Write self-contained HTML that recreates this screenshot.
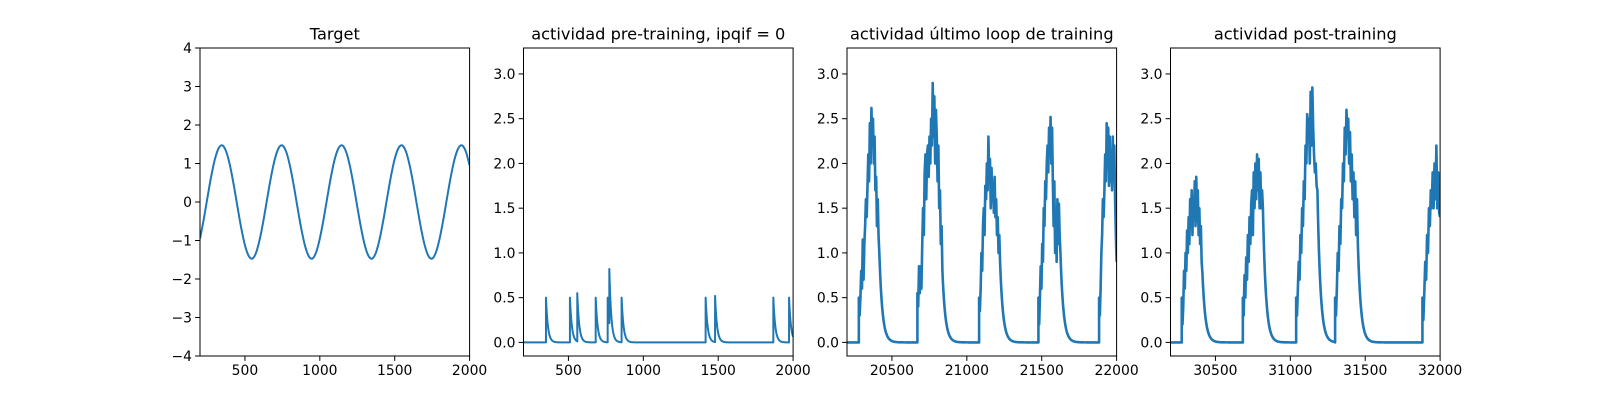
<!DOCTYPE html>
<html><head><meta charset="utf-8"><style>
body{margin:0;background:#fff}
svg{display:block;font-family:"DejaVu Sans","Liberation Sans",sans-serif}
</style></head><body>
<svg id="fig" width="1600" height="400" viewBox="0 0 1600 400"></svg>
<script>
// ---- Data ----
const targetX0 = 200, targetStep = 25;
const targetValues = [
-0.95,-0.45,0.12,0.67,1.12,1.40,1.47,1.31,0.95,0.45,-0.12,-0.67,-1.12,-1.40,-1.47,-1.31,
-0.95,-0.45,0.12,0.67,1.12,1.40,1.47,1.31,0.95,0.45,-0.12,-0.67,-1.12,-1.40,-1.47,-1.31,
-0.95,-0.45,0.12,0.67,1.12,1.40,1.47,1.31,0.95,0.45,-0.12,-0.67,-1.12,-1.40,-1.47,-1.31,
-0.95,-0.45,0.12,0.67,1.12,1.40,1.47,1.31,0.95,0.45,-0.12,-0.67,-1.12,-1.40,-1.47,-1.31,
-0.95,-0.45,0.12,0.67,1.12,1.40,1.47,1.31,0.95];
const spikeTimes = [350,510,559,682,762,773,855,1416,1479,1868,1973];
const spikeHeights = [0.5,0.5,0.55,0.5,0.5,0.82,0.5,0.5,0.52,0.5,0.5];

const p3Onsets = [20279,20670,21082,21478,21883];
const p3Ends = [20421,20837,21222,21625,22000];
const p3Burst1 = [0.5,0.3,0.5,0.8,0.6,1.15,0.7,1.1,1.3,1.6,1.4,1.75,2.1,1.8,2.45,2.0,2.62,2.2,2.5,2.0,2.3,1.7,1.85,1.3,1.6,1.2,1.0,0.78];
const p3Burst2 = [0.55,0.4,0.85,0.55,0.85,0.6,1.1,1.5,1.2,1.9,2.1,1.6,2.1,2.2,1.85,2.3,2.0,2.5,2.2,2.9,2.3,2.75,2.0,2.6,2.3,1.8,2.2,1.5,1.7,1.1,1.3,0.8];
const p3Burst3 = [0.5,0.35,0.6,1.0,0.8,1.3,1.5,1.2,1.75,1.6,2.0,1.7,2.3,1.85,2.05,1.5,1.95,1.6,1.75,1.45,1.85,1.4,1.6,1.2,1.4,1.0,1.2,0.9];
const p3Burst4 = [0.5,0.2,0.5,0.85,0.6,1.1,0.9,1.5,1.3,1.8,1.6,2.0,2.2,1.9,2.4,2.1,2.52,2.0,2.4,1.8,1.3,1.8,1.0,1.5,0.9,1.6,1.1,1.55,1.2,1.0];
const p3Burst5 = [0.5,0.3,0.6,1.0,1.2,1.6,1.4,1.7,2.1,1.8,2.45,2.0,2.4,1.75,2.3,1.8,2.1,1.7,2.3,1.8,2.2,1.6,1.2,0.9];

const p4Onsets = [30275,30683,31039,31299,31882];
const p4Ends = [30413,30817,31181,31451,32000];
const p4Burst1 = [0.5,0.2,0.4,0.8,0.6,1.0,0.8,1.25,1.0,1.4,1.1,1.6,1.3,1.7,1.2,1.6,1.4,1.8,1.3,1.85,1.35,1.7,1.2,1.5,1.1,1.3,0.9,0.78];
const p4Burst2 = [0.5,0.3,0.75,0.5,0.95,0.7,1.2,0.9,1.4,1.1,1.55,1.7,1.2,1.9,1.5,2.0,1.6,2.1,1.7,2.05,1.5,1.9,1.5,1.7,1.5];
const p4Burst3 = [0.5,0.3,0.6,0.9,0.7,1.2,1.0,1.5,1.3,1.8,1.6,2.2,2.0,2.55,2.3,2.5,2.0,2.8,2.2,2.85,2.4,2.1,1.9,2.0,1.75,1.7];
const p4Burst4 = [0.5,0.3,0.6,1.0,0.8,1.3,1.1,1.6,1.5,2.0,1.8,2.4,2.1,2.6,2.3,2.5,2.0,2.35,1.8,2.1,1.6,1.9,1.4,1.8,1.2,1.6,1.1];
const p4Burst5 = [0.5,0.25,0.55,0.9,0.7,1.2,1.0,1.5,1.3,1.7,1.5,1.9,1.5,2.0,1.6,2.2,1.5,1.9,1.45,1.4];

const titles = ["Target","actividad pre-training, ipqif = 0","actividad último loop de training","actividad post-training"];
const xTicks1 = [500,1000,1500,2000];
const xTicks3 = [20500,21000,21500,22000];
const xTicks4 = [30500,31000,31500,32000];
const yTicks1 = [-4,-3,-2,-1,0,1,2,3,4];
const yTicks2 = [0,0.5,1,1.5,2,2.5,3];

// ---- Drawing ----
const NS="http://www.w3.org/2000/svg";
const svg=document.getElementById('fig');
function mk(tag,attrs,parent){const e=document.createElementNS(NS,tag);for(const k in attrs)e.setAttribute(k,attrs[k]);(parent||svg).appendChild(e);return e;}
const TOP=48,BOT=356,W=269.6,GAP=53.9;
const lefts=[200,200+W+GAP,200+2*(W+GAP),200+3*(W+GAP)];

function axes(i,xmin,xmax,ymin,ymax,xt,yt,ylab,pts,name,smooth,sw){
  const L=lefts[i],R=L+W;
  const sx=v=>L+(v-xmin)/(xmax-xmin)*W;
  const sy=v=>BOT-(v-ymin)/(ymax-ymin)*(BOT-TOP);
  const g=mk('g',{});
  
  
  const cp=mk('clipPath',{id:'c'+i},g);
  mk('rect',{x:L,y:TOP,width:W,height:BOT-TOP},cp);
  const P=pts.map(p=>[sx(p[0]),sy(p[1])]);
  let d;
  if(smooth){
    d='M'+P[0][0].toFixed(2)+' '+P[0][1].toFixed(2);
    for(let k=0;k<P.length-1;k++){
      const p0=P[Math.max(0,k-1)],p1=P[k],p2=P[k+1],p3=P[Math.min(P.length-1,k+2)];
      const c1=[p1[0]+(p2[0]-p0[0])/6,p1[1]+(p2[1]-p0[1])/6];
      const c2=[p2[0]-(p3[0]-p1[0])/6,p2[1]-(p3[1]-p1[1])/6];
      d+='C'+c1[0].toFixed(2)+' '+c1[1].toFixed(2)+' '+c2[0].toFixed(2)+' '+c2[1].toFixed(2)+' '+p2[0].toFixed(2)+' '+p2[1].toFixed(2);
    }
  } else d=P.map((p,k)=>(k?'L':'M')+p[0].toFixed(2)+' '+p[1].toFixed(2)).join('');
  const line=mk('path',{d:d,fill:'none',stroke:'#1f77b4','stroke-width':sw,'stroke-linejoin':'round','clip-path':'url(#c'+i+')'},g);
  
  
  const fr=mk('rect',{x:L,y:TOP,width:W,height:BOT-TOP,fill:'none',stroke:'#000','stroke-width':1},g);
  
  
  xt.forEach(v=>{const x=sx(v);mk('line',{x1:x,x2:x,y1:BOT,y2:BOT+4.9,stroke:'#000','stroke-width':1},g);
    const t=mk('text',{x:x,y:BOT+19,'text-anchor':'middle','font-size':13.9,fill:'#000'},g);t.textContent=String(v);
    
    });
  yt.forEach(v=>{const y=sy(v);mk('line',{x1:L,x2:L-4.9,y1:y,y2:y,stroke:'#000','stroke-width':1},g);
    const t=mk('text',{x:L-8,y:y+5,'text-anchor':'end','font-size':13.9,fill:'#000'},g);t.textContent=ylab(v);
    
    });
  const tt=mk('text',{x:L+W/2,y:39.5,'text-anchor':'middle','font-size':16.2,fill:'#000'},g);tt.textContent=titles[i];
  
  
}

// Panel 1
const p1=targetValues.map((v,k)=>[targetX0+k*targetStep,v]);
// Panel 2
function spikeVal(t){let m=0;spikeTimes.forEach((s,k)=>{if(t>=s){const v=spikeHeights[k]*Math.exp(-(t-s)/13);if(v>m)m=v;}});return m;}
let ts=[];for(let t=200;t<=2000;t+=2)ts.push(t);
spikeTimes.forEach(s=>{ts.push(s-0.01);ts.push(s);});
ts.sort((a,b)=>a-b);
const p2=ts.map(t=>[t,spikeVal(t)]);
// Bursts
function burstPts(xmin,xmax,onsets,ends,bursts){
  const pts=[[xmin,0]];
  onsets.forEach((on,k)=>{
    pts.push([on,0]);
    const b=bursts[k],n=b.length,e=ends[k];
    b.forEach((v,j)=>pts.push([on+j*(e-on)/(n-1),v]));
    const next=k+1<onsets.length?onsets[k+1]:xmax;
    const last=b[n-1];
    for(let t=e+2;t<next;t+=2)pts.push([t,last*Math.exp(-(t-e)/20)]);
  });
  return pts;
}
const p3=burstPts(20200,22000,p3Onsets,p3Ends,[p3Burst1,p3Burst2,p3Burst3,p3Burst4,p3Burst5]);
const p4=burstPts(30200,32000,p4Onsets,p4Ends,[p4Burst1,p4Burst2,p4Burst3,p4Burst4,p4Burst5]);

const intLab=v=>v<0?'\u2212'+Math.abs(v):String(v);
const decLab=v=>v.toFixed(1);
axes(0,200,2000,-4,4,xTicks1,yTicks1,intLab,p1,'target-plot',true,2);
axes(1,200,2000,-0.152,3.29,xTicks1,yTicks2,decLab,p2,'pre-training-plot',false,2);
axes(2,20200,22000,-0.152,3.29,xTicks3,yTicks2,decLab,p3,'last-training-loop-plot',false,2.6);
axes(3,30200,32000,-0.152,3.29,xTicks4,yTicks2,decLab,p4,'post-training-plot',false,2.6);
</script>
</body></html>
